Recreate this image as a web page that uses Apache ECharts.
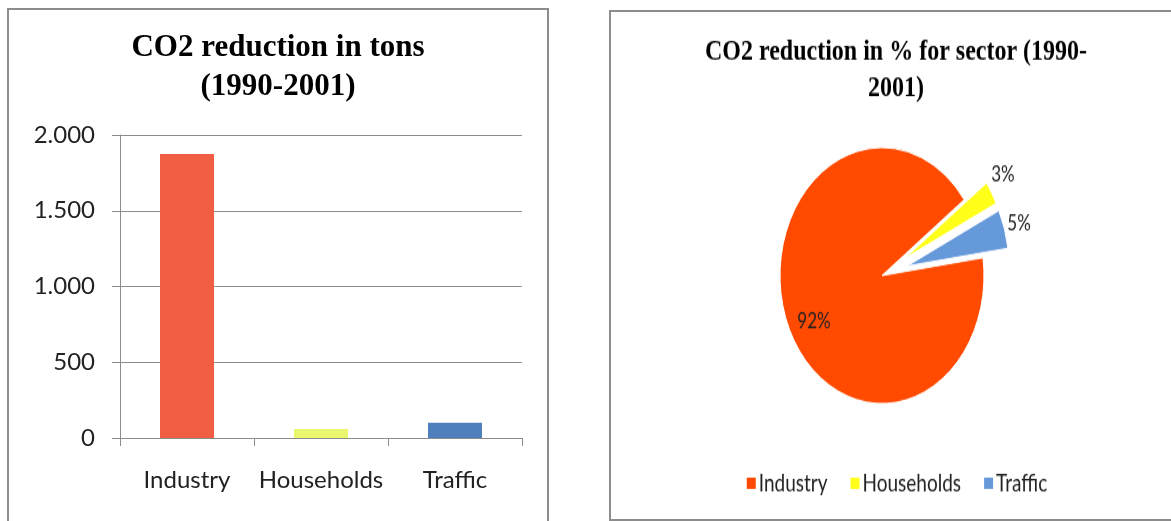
<!DOCTYPE html>
<html>
<head>
<meta charset="utf-8">
<style>
  html, body { margin: 0; padding: 0; background: #fff; overflow: hidden; }
  body { width: 1171px; height: 521px; position: relative; }
  #leftBox {
    position: absolute; left: 7px; top: 8px; width: 538px; height: 530px;
    border: 2px solid #8c8c8c; border-bottom: none;
  }
  #rightBox {
    position: absolute; left: 609px; top: 10px; width: 600px; height: 507px;
    border: 2px solid #8c8c8c; overflow: hidden;
  }
  #left { width: 538px; height: 530px; }
  #right {
    width: 570px; height: 404px;
    transform: scaleY(1.255); transform-origin: 0 0;
  }
</style>
</head>
<body>
<div id="leftBox"><div id="left"></div></div>
<div id="rightBox"><div id="right"></div></div>

<script src="https://cdn.jsdelivr.net/npm/echarts@6/dist/echarts.min.js"></script>
<script>
  // sectors and reduction in tons (1990-2001)
  const sectors = ['Industry', 'Households', 'Traffic'];
  const tons = [1875, 60, 100];
  const barColors = ['#F25E44', '#EAF76E', '#4E80BE'];
  const pieColors = ['#FF4A00', '#FFFF1A', '#6699D9'];
  const yTicks = [0, 500, 1000, 1500, 2000];

  const sans = 'Lato';
  const serif = 'Liberation Serif';

  // dot as thousands separator
  const fmt = v => String(v).replace(/\B(?=(\d{3})+(?!\d))/g, '.');

  const left = echarts.init(document.getElementById('left'));
  left.setOption({
    animation: false,
    title: {
      text: 'CO2 reduction in tons\n(1990-2001)',
      left: 'center',
      top: 18,
      padding: 0,
      textStyle: { fontFamily: serif, fontWeight: 'bold', fontSize: 31, lineHeight: 39, color: '#000' }
    },
    grid: { left: 111, top: 125, width: 402, height: 303 },
    xAxis: {
      type: 'category',
      data: sectors,
      axisLine: { lineStyle: { color: '#8c8c8c', width: 1 } },
      axisTick: { show: true, length: 8, lineStyle: { color: '#8c8c8c' } },
      axisLabel: { interval: 0, margin: 30, fontFamily: sans, fontSize: 24, color: '#222' }
    },
    yAxis: {
      type: 'value',
      min: yTicks[0],
      max: yTicks[yTicks.length - 1],
      interval: yTicks[1] - yTicks[0],
      axisLine: { show: true, lineStyle: { color: '#8c8c8c', width: 1 } },
      axisTick: { show: true, length: 8, lineStyle: { color: '#8c8c8c' } },
      splitLine: { lineStyle: { color: '#8c8c8c', width: 1 } },
      axisLabel: { margin: 25, fontFamily: sans, fontSize: 24, color: '#222', formatter: fmt }
    },
    series: [{
      type: 'bar',
      barWidth: 54,
      data: tons.map((v, i) => ({ value: v, itemStyle: { color: barColors[i] } }))
    }]
  });

  const right = echarts.init(document.getElementById('right'));
  right.setOption({
    animation: false,
    title: {
      text: 'CO2 reduction in % for sector (1990-\n2001)',
      left: 'center',
      top: 17.5,
      padding: 0,
      textStyle: { fontFamily: serif, fontWeight: 'bold', fontSize: 24, lineHeight: 29, color: '#000' }
    },
    legend: {
      data: sectors,
      left: 'center',
      top: 366,
      padding: 0,
      icon: 'rect',
      itemWidth: 11,
      itemHeight: 11,
      itemGap: 21,
      selectedMode: false,
      textStyle: { fontFamily: sans, fontSize: 19, color: '#222', padding: [0, 0, 0, -3] }
    },
    series: [{
      type: 'pie',
      center: [271, 210],
      radius: 102,
      startAngle: 8,
      selectedMode: 'multiple',
      selectedOffset: 26,
      itemStyle: { borderColor: '#fff', borderWidth: 1 },
      label: {
        fontFamily: sans, fontSize: 17, color: '#222',
        formatter: p => Math.round(p.percent) + '%'
      },
      labelLine: { show: false, length: 4, length2: 0 },
      emphasis: { disabled: true },
      data: sectors.map((s, i) => ({
        name: s,
        value: tons[i],
        selected: i > 0,
        itemStyle: { color: pieColors[i] },
        label: { position: i === 0 ? 'inside' : 'outside' }
      })),
      labelLayout: p => [{ dx: -18, dy: 16 }, { dx: -9, dy: -13 }, { dx: -6, dy: -3 }][p.dataIndex]
    }]
  });
</script>
</body>
</html>
